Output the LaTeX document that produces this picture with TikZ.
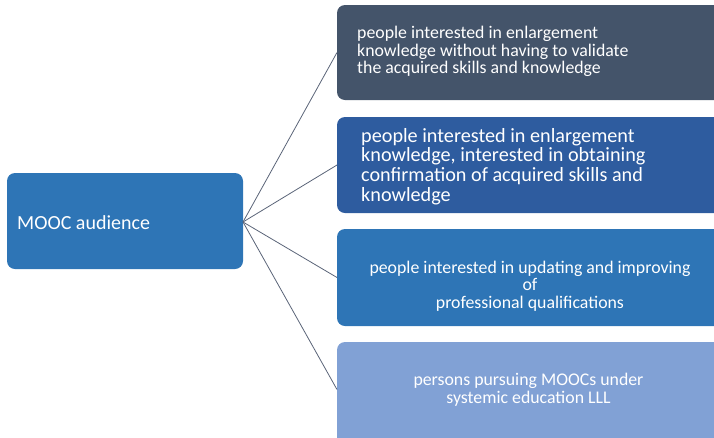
\documentclass[tikz,border=0pt]{standalone}
\usepackage{fontspec}
\setmainfont{Carlito}
\definecolor{slate}{HTML}{44546A}
\definecolor{deepblue}{HTML}{2E5C9F}
\definecolor{midblue}{HTML}{2E75B6}
\definecolor{paleblue}{HTML}{81A1D5}
\definecolor{linkgray}{HTML}{5A6478}
\begin{document}
\begin{tikzpicture}[x=1pt,y=-1pt,
  card/.style={rounded corners=8pt, inner sep=0pt},
  label/.style={text=white, inner sep=0pt},
  link/.style={draw=linkgray, line width=0.8pt}]
\useasboundingbox (0,0) rectangle (714,437);
\clip (0,0) rectangle (714,437);
% hub box
\fill[midblue, card] (7,173) rectangle (243,269);
\coordinate (hub) at (243,222);
\node[label, anchor=west, font=\fontsize{20}{24}\selectfont] (hubtext) at (17,222.5) {MOOC audience};
% audience boxes (right ends run past the frame)
\fill[slate, card] (337,5) rectangle (724,100);
\fill[deepblue, card] (337,117) rectangle (724,213);
\fill[midblue, card] (337,229) rectangle (724,326);
\fill[paleblue, card] (337,342) rectangle (724,447);
\coordinate (a) at (337,52.5);
\coordinate (b) at (337,165);
\coordinate (c) at (337,277.5);
\coordinate (d) at (337,389.5);
\node[label, anchor=west, align=left, font=\fontsize{17.8}{17.8}\selectfont] (ta) at (357,51.5)
  {people interested in enlargement\\knowledge without having to validate\\the acquired skills and knowledge};
\node[label, anchor=west, align=left, font=\fontsize{20.2}{19.6}\selectfont] (tb) at (361,166.5)
  {people interested in enlargement\\knowledge, interested in obtaining\\confirmation of acquired skills and\\knowledge};
\node[label, align=center, font=\fontsize{17.8}{17.6}\selectfont] (tc) at (530,286)
  {people interested in updating and improving\\of\\professional qualifications};
\node[label, align=center, font=\fontsize{17.8}{18}\selectfont] (td) at (528.5,389.5)
  {persons pursuing MOOCs under\\systemic education LLL};
% connectors
\draw[link] (hub) -- (a);
\draw[link] (hub) -- (b);
\draw[link] (hub) -- (c);
\draw[link] (hub) -- (d);
\end{tikzpicture}
\end{document}
